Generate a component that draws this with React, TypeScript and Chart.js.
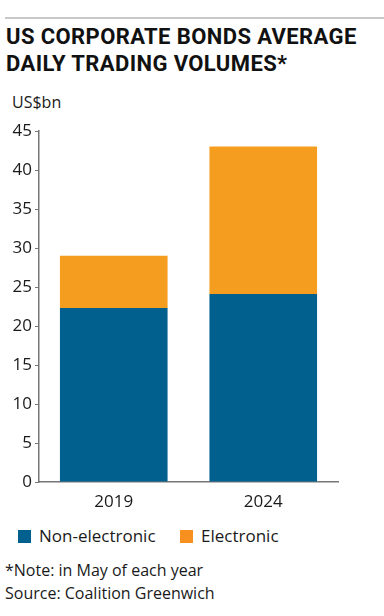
import React, { useEffect, useRef } from "react";
import { Chart, registerables } from "chart.js";

Chart.register(...registerables);

const categories = ["2019", "2024"];
const nonElectronic = [22.3, 24.1];
const electronic = [6.7, 18.9];
const yTicks = [0, 5, 10, 15, 20, 25, 30, 35, 40, 45];
const seriesNames = ["Non-electronic", "Electronic"];

const BLUE = "#02608f";
const ORANGE = "#f59d1f";
const FONT = "'Open Sans', sans-serif";

export default function App() {
  const ref = useRef<HTMLCanvasElement | null>(null);

  useEffect(() => {
    if (!ref.current) return;
    const chart = new Chart(ref.current, {
      type: "bar",
      data: {
        labels: categories,
        datasets: [
          { label: seriesNames[0], data: nonElectronic, backgroundColor: BLUE, borderWidth: 0 },
          { label: seriesNames[1], data: electronic, backgroundColor: ORANGE, borderWidth: 0 },
        ],
      },
      options: {
        animation: false,
        responsive: false,
        maintainAspectRatio: false,
        layout: { padding: { top: 21, right: 46, left: 0, bottom: 0 } },
        plugins: { legend: { display: false }, tooltip: { enabled: false }, title: { display: false } },
        datasets: { bar: { categoryPercentage: 0.8, barPercentage: 0.9 } },
        scales: {
          x: {
            stacked: true,
            grid: { display: false, drawTicks: false },
            border: { display: true, color: "#777", width: 1.5 },
            ticks: { color: "#1a1a1a", font: { family: FONT, size: 17 }, padding: 10 },
            afterFit: (s: any) => { s.height = 38; },
          },
          y: {
            stacked: true,
            min: 0,
            max: 45,
            afterBuildTicks: (s: any) => { s.ticks = yTicks.map((v) => ({ value: v })); },
            grid: { drawOnChartArea: false, drawTicks: true, tickLength: 4, color: "#777", lineWidth: 1 },
            border: { display: true, color: "#777", width: 1.5 },
            ticks: { color: "#1a1a1a", font: { family: FONT, size: 17 }, padding: 3 },
            afterFit: (s: any) => { s.width = 39; },
          },
        },
      },
    });
    return () => chart.destroy();
  }, []);

  const text: React.CSSProperties = { position: "absolute", fontFamily: FONT, color: "#1a1a1a", whiteSpace: "nowrap" };

  return (
    <div style={{ position: "absolute", left: 0, top: 0, width: 384, height: 616, background: "#fff", overflow: "hidden" }}>
      <div style={{ position: "absolute", left: 5, top: 17, width: 379, height: 2, background: "#c8c8c8" }} />
      <div style={{ ...text, left: 6, top: 23, fontFamily: "Roboto, sans-serif", fontWeight: 700, fontSize: 22, letterSpacing: "0.4px", lineHeight: "27px", color: "#111" }}>
        US CORPORATE BONDS AVERAGE
        <br />
        DAILY TRADING VOLUMES*
      </div>
      <div style={{ ...text, left: 12, top: 92, fontSize: 16, lineHeight: "20px" }}>US$bn</div>
      <canvas ref={ref} width={384} height={410} style={{ position: "absolute", left: 0, top: 110, width: 384, height: 410 }} />
      <div style={{ position: "absolute", left: 18, top: 530, width: 13, height: 13, background: BLUE }} />
      <div style={{ ...text, left: 39, top: 525, fontSize: 17, lineHeight: "22px" }}>{seriesNames[0]}</div>
      <div style={{ position: "absolute", left: 180, top: 530, width: 13, height: 13, background: "#f7901e" }} />
      <div style={{ ...text, left: 201, top: 525, fontSize: 17, lineHeight: "22px" }}>{seriesNames[1]}</div>
      <div style={{ ...text, left: 5, top: 559, fontSize: 16, lineHeight: "23px" }}>
        *Note: in May of each year
        <br />
        Source: Coalition Greenwich
      </div>
    </div>
  );
}
